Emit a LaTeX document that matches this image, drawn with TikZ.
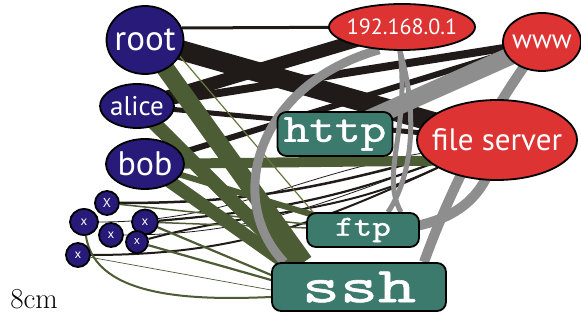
\documentclass[tikz,border=0pt]{standalone}
\usepackage{fontspec}
\newfontfamily\lblfont{PT Sans}
\newfontfamily\svcfont{lmmono10-regular}[Extension=.otf, FakeStretch=1.22, FakeBold=1.0]
\newfontfamily\svcwide{lmmono10-regular}[Extension=.otf, FakeStretch=1.45, FakeBold=1.2]
\usetikzlibrary{shapes.geometric,backgrounds}

\definecolor{userblue}{RGB}{40,26,120}
\definecolor{hostred}{RGB}{221,51,51}
\definecolor{svcteal}{RGB}{61,122,110}
\definecolor{edgeblack}{RGB}{32,27,25}
\definecolor{edgegreen}{RGB}{76,92,52}
\definecolor{edgeolive}{RGB}{105,118,62}
\definecolor{edgegrey}{RGB}{142,142,142}

\tikzset{
  user/.style={ellipse, draw=black, line width=1.8pt, fill=userblue, inner sep=0pt},
  host/.style={ellipse, draw=black, line width=1.8pt, fill=hostred, inner sep=0pt},
  svc/.style={rectangle, rounded corners=9pt, draw=black, line width=1.8pt, fill=svcteal,
              text=white, inner sep=0pt},
  lbl/.style={text=white, inner sep=0pt},
  eblack/.style={draw=edgeblack},
  egreen/.style={draw=edgegreen},
  egrey/.style={draw=edgegrey},
}

\begin{document}
\begin{tikzpicture}[x=1pt, y=-1pt]
\useasboundingbox (0,0) rectangle (581,328);

% users
\node[user, minimum width=77pt, minimum height=68pt,
      label={[lbl, font=\lblfont\fontsize{35}{35}\selectfont]center:root}] (root) at (145,40) {};
\node[user, minimum width=74pt, minimum height=44pt,
      label={[lbl, font=\lblfont\fontsize{27}{27}\selectfont]center:alice}] (alice) at (137,106) {};
\node[user, minimum width=78pt, minimum height=50pt,
      label={[lbl, font=\lblfont\fontsize{34}{34}\selectfont]center:bob}] (bob) at (145,164) {};
\node[user, minimum width=24pt, minimum height=24pt,
      label={[lbl, font=\lblfont\fontsize{13}{13}\selectfont]center:X}] (x1) at (107,203) {};
\node[user, minimum width=28pt, minimum height=26pt,
      label={[lbl, font=\lblfont\fontsize{13}{13}\selectfont]center:x}] (x2) at (84,222) {};
\node[user, minimum width=26pt, minimum height=25pt,
      label={[lbl, font=\lblfont\fontsize{13}{13}\selectfont]center:x}] (x3) at (145,222) {};
\node[user, minimum width=24pt, minimum height=24pt,
      label={[lbl, font=\lblfont\fontsize{13}{13}\selectfont]center:x}] (x4) at (111,235) {};
\node[user, minimum width=22pt, minimum height=22pt,
      label={[lbl, font=\lblfont\fontsize{12}{12}\selectfont]center:x}] (x5) at (137,242) {};
\node[user, minimum width=24pt, minimum height=24pt,
      label={[lbl, font=\lblfont\fontsize{13}{13}\selectfont]center:x}] (x6) at (78,255) {};

% hosts
\node[host, minimum width=146pt, minimum height=46pt,
      label={[lbl, font=\lblfont\fontsize{22}{22}\selectfont]center:192.168.0.1}] (ip) at (402,27) {};
\node[host, minimum width=78pt, minimum height=58pt,
      label={[lbl, font=\lblfont\fontsize{27}{27}\selectfont]center:www}] (www) at (542,42) {};
\node[host, minimum width=160pt, minimum height=80pt,
      label={[lbl, font=\lblfont\fontsize{31}{31}\selectfont]center:file server}] (fs) at (497,140) {};

% services
\node[svc, minimum width=115pt, minimum height=44pt, font=\svcfont\fontsize{40}{40}\selectfont] (http) at (335,134) {http};
\node[svc, minimum width=112pt, minimum height=34pt, font=\svcfont\fontsize{29}{29}\selectfont] (ftp) at (363,230) {ftp};
\node[svc, minimum width=174pt, minimum height=48pt, font=\svcwide\fontsize{50}{50}\selectfont] (ssh) at (359,287) {ssh};

\node[font=\fontsize{29}{32}\selectfont] (size) at (34,299) {8cm};

\begin{scope}[on background layer]
  % user -- host
  \draw[eblack, line width=3pt] (root.18) -- (ip.center);
  \draw[eblack, line width=20pt] (root.center) -- (fs.center);
  \draw[eblack, line width=13pt] (alice.center) -- (ip.center);
  \draw[eblack, line width=8pt] (alice.center) -- (www.center);
  \draw[eblack, line width=6pt] (bob.center) -- (www.center);
  \draw[eblack, line width=5pt] (alice.center) -- (fs.center);
  \draw[eblack, line width=2.5pt] (x1) to[out=0, in=195] (fs);
  \draw[eblack, line width=2.2pt] (x3) to[out=5, in=200] (fs);
  \draw[eblack, line width=2pt] (x5) to[out=15, in=205] (fs);
  \draw[eblack, line width=2pt] (x6) to[out=0, in=205] (fs);
  \draw[eblack, line width=0.8pt] (x2) to[out=0, in=190] (fs);
  \draw[eblack, line width=0.8pt] (x4) to[out=0, in=200] (fs);

  % user -- service
  \draw[egreen, line width=18pt] (root.center) -- ([xshift=-55pt]ssh.north);
  \draw[egreen, line width=14pt] (alice.center) -- ([xshift=-65pt]ssh.north);
  \draw[egreen, line width=13pt] (bob.center) -- ([xshift=-75pt]ssh.north);
  \draw[egreen, line width=10pt] (bob.center) -- ([yshift=-20pt]fs.center);
  \draw[egreen, line width=6pt] (bob.center) -- (ftp.center);
  \draw[edgeolive, line width=1.2pt] (root.-25) -- ([xshift=-50pt]ftp.north);
  \draw[egreen, line width=2pt] (x2) .. controls (95,300) and (200,300) .. ([yshift=-10pt]ssh.west);
  \draw[egreen, line width=0.7pt] (x6) -- ([yshift=-3pt]ssh.west);
  \draw[egreen, line width=2.2pt] (x3) -- ([yshift=12pt]ssh.west);
  \draw[egreen, line width=2.2pt] (x5) -- ([yshift=7pt]ssh.west);
  \draw[egreen, line width=1.5pt] (x1) -- (ftp.center);
  \draw[egreen, line width=1.5pt] (x3) -- (ftp.center);

  % service -- host
  \draw[egrey, line width=18pt] (http.center) -- (www.center);
  \draw[egrey, line width=9pt] (ip.225) .. controls (255,85) and (225,200) .. ([xshift=-75pt]ssh.north);
  \draw[egrey, line width=5pt] (ip.-95) .. controls (420,120) and (410,180) .. ([xshift=25pt]ftp.north);
  \draw[egrey, line width=5pt] (ip.-95) .. controls (410,130) and (380,175) .. ([xshift=38pt]ftp.north);
  \draw[egrey, line width=10pt] (www.center) .. controls (490,110) and (450,190) .. ([xshift=65pt]ssh.north);
  \draw[egrey, line width=10pt] (fs.center) .. controls (490,200) and (450,232) .. (ftp.center);
\end{scope}
\end{tikzpicture}
\end{document}
